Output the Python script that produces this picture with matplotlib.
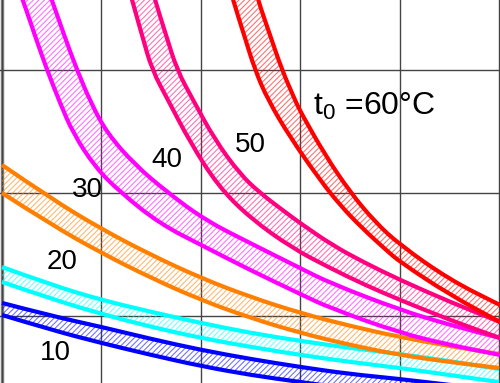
import numpy as np
import matplotlib
matplotlib.use("Agg")
import matplotlib.pyplot as plt
from matplotlib.path import Path
from matplotlib.patches import PathPatch

plt.rcParams['font.family'] = ['Liberation Sans', 'DejaVu Sans']
plt.rcParams['mathtext.fontset'] = 'custom'
plt.rcParams['mathtext.rm'] = 'Liberation Sans'
plt.rcParams['hatch.linewidth'] = 0.8

# common x for the flat bands (10, 20, 30)
x_flat = [0.0, 0.5, 1.0, 1.5, 2.0, 2.5, 3.0, 3.5, 4.0, 4.5, 5.0]

t10_hi = [1.106, 1.000, 0.911, 0.813, 0.724, 0.650, 0.585, 0.528, 0.488, 0.439, 0.398]
t10_lo = [1.008, 0.886, 0.780, 0.683, 0.593, 0.520, 0.463, 0.407, 0.358, 0.317, 0.276]

t20_hi = [1.398, 1.252, 1.130, 1.033, 0.943, 0.862, 0.797, 0.740, 0.691, 0.634, 0.569]
t20_lo = [1.276, 1.138, 1.016, 0.911, 0.821, 0.748, 0.683, 0.626, 0.577, 0.520, 0.463]

t30_hi = [2.228, 1.951, 1.707, 1.496, 1.309, 1.154, 1.024, 0.919, 0.829, 0.756, 0.691]
t30_lo = [2.000, 1.740, 1.512, 1.309, 1.130, 0.984, 0.862, 0.764, 0.683, 0.626, 0.577]

# steep bands (40, 50, 60): own x for each edge
t40_hi_x = [0.443, 0.503, 0.624, 0.755, 0.895, 1.056, 1.338, 1.660, 2.042, 2.495, 2.998, 3.300, 4.004, 4.507, 5.010]
t40_hi_y = [3.691, 3.569, 3.285, 3.000, 2.732, 2.488, 2.228, 2.008, 1.780, 1.593, 1.390, 1.268, 1.049, 0.927, 0.821]
t40_lo_x = [0.151, 0.211, 0.322, 0.453, 0.584, 0.714, 0.936, 1.187, 1.590, 2.042, 2.495, 2.998, 3.300, 4.004, 4.507, 5.010]
t40_lo_y = [3.691, 3.569, 3.301, 3.000, 2.732, 2.488, 2.211, 2.008, 1.748, 1.561, 1.374, 1.179, 1.065, 0.862, 0.764, 0.683]

t50_hi_x = [1.499, 1.539, 1.650, 1.761, 1.922, 2.143, 2.394, 2.596, 2.847, 2.998, 3.320, 3.652, 4.004, 4.507, 5.010]
t50_hi_y = [3.691, 3.569, 3.285, 3.000, 2.756, 2.431, 2.154, 2.000, 1.846, 1.756, 1.577, 1.431, 1.293, 1.114, 0.951]
t50_lo_x = [1.268, 1.308, 1.408, 1.509, 1.670, 1.891, 2.173, 2.495, 2.917, 3.300, 3.652, 4.004, 4.507, 5.010]
t50_lo_y = [3.691, 3.569, 3.285, 3.000, 2.756, 2.415, 2.057, 1.797, 1.553, 1.390, 1.252, 1.130, 0.967, 0.821]

t60_hi_x = [2.535, 2.575, 2.696, 2.817, 2.948, 2.998, 3.250, 3.501, 3.753, 4.004, 4.507, 5.010]
t60_hi_y = [3.691, 3.569, 3.285, 3.000, 2.756, 2.667, 2.309, 2.008, 1.764, 1.577, 1.293, 1.089]
t60_lo_x = [2.284, 2.324, 2.435, 2.545, 2.676, 2.897, 3.199, 3.400, 3.622, 3.863, 4.004, 4.507, 5.010]
t60_lo_y = [3.691, 3.569, 3.285, 3.000, 2.756, 2.455, 2.106, 1.902, 1.715, 1.537, 1.439, 1.171, 0.951]

labels = ['10', '20', '30', '40', '50']
label_x = [0.533, 0.604, 0.855, 1.660, 2.495]
label_y = [0.699, 1.439, 2.024, 2.268, 2.390]

bands = [
    (x_flat, t10_hi, x_flat, t10_lo, '#0000ff'),
    (x_flat, t20_hi, x_flat, t20_lo, '#00ffff'),
    (x_flat, t30_hi, x_flat, t30_lo, '#ff8000'),
    (t40_hi_x, t40_hi_y, t40_lo_x, t40_lo_y, '#ff00ff'),
    (t50_hi_x, t50_hi_y, t50_lo_x, t50_lo_y, '#ff0080'),
    (t60_hi_x, t60_hi_y, t60_lo_x, t60_lo_y, '#ff0000'),
]


def smooth_segments(xs, ys):
    # quadratic bezier pieces: read points act as control points
    pts = list(zip(xs, ys))
    verts = []
    codes = []
    for i in range(1, len(pts) - 1):
        mid = ((pts[i][0] + pts[i + 1][0]) / 2, (pts[i][1] + pts[i + 1][1]) / 2)
        verts += [pts[i], mid]
        codes += [Path.CURVE3, Path.CURVE3]
    verts.append(pts[-1])
    codes.append(Path.LINETO)
    return verts, codes


def edge_path(xs, ys):
    v, c = smooth_segments(xs, ys)
    return Path([(xs[0], ys[0])] + v, [Path.MOVETO] + c)


def band_path(hx, hy, lx, ly):
    v1, c1 = smooth_segments(hx, hy)
    v2, c2 = smooth_segments(lx[::-1], ly[::-1])
    verts = [(hx[0], hy[0])] + v1 + [(lx[-1], ly[-1])] + v2 + [(hx[0], hy[0])]
    codes = [Path.MOVETO] + c1 + [Path.LINETO] + c2 + [Path.CLOSEPOLY]
    return Path(verts, codes)


fig = plt.figure(figsize=(5, 3.83), dpi=100)
ax = fig.add_axes([0, 0, 1, 1])
ax.set_xlim(-0.02, 5.01)
ax.set_ylim(0.455, 3.569)

ax.set_xticks([0, 1, 2, 3, 4, 5])
ax.set_yticks([1, 2, 3])
ax.grid(True, color='#444444', linewidth=1.0)
ax.tick_params(length=0, labelbottom=False, labelleft=False)
for s in ax.spines.values():
    s.set_visible(False)
ax.axvline(0, color='#888888', linewidth=2.5, zorder=1)

for hx, hy, lx, ly, col in bands:
    ax.add_patch(PathPatch(band_path(hx, hy, lx, ly), facecolor='none',
                           edgecolor=col, linewidth=0, hatch='//////',
                           alpha=0.55, zorder=2))
    for ex, ey in [(hx, hy), (lx, ly)]:
        ax.add_patch(PathPatch(edge_path(ex, ey), facecolor='none',
                               edgecolor=col, linewidth=3, zorder=3))

for txt, tx, ty in zip(labels, label_x, label_y):
    ax.text(tx, ty, txt, fontsize=20, ha='center', va='center', zorder=4)

ax.text(3.129, 2.634, r't$_\mathregular{0}$ =60°C', fontsize=23,
        ha='left', va='baseline', zorder=4)

fig.savefig('out.png', dpi=100)
